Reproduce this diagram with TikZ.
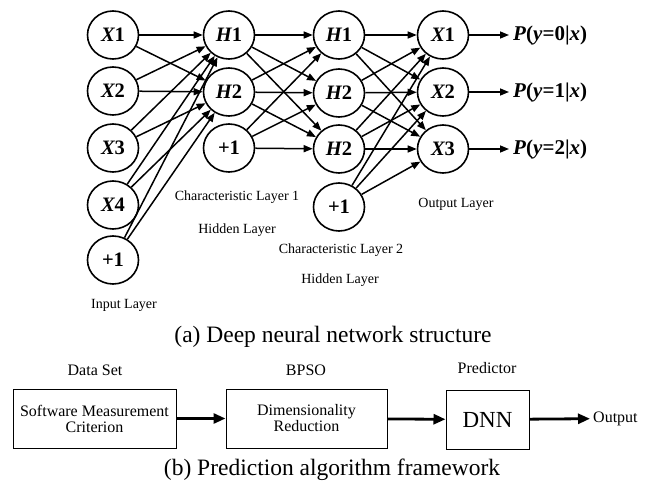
\documentclass[tikz,border=0pt]{standalone}
\usepackage{fontspec}
\setmainfont{Liberation Serif}
\usetikzlibrary{arrows.meta,shapes.geometric}
\begin{document}
\begin{tikzpicture}[x=1pt,y=-1pt,
  neuron/.style={ellipse,draw,line width=1.6pt,minimum width=51pt,minimum height=48pt,inner sep=0pt,
    font=\fontsize{20.5}{20.5}\selectfont\bfseries},
  conn/.style={line width=1.5pt,-{Triangle[length=9pt,width=7pt]}},
  lbl/.style={font=\fontsize{14}{14}\selectfont,inner sep=0pt},
  plbl/.style={font=\fontsize{21}{21}\selectfont\bfseries,anchor=west,inner sep=4pt},
  captext/.style={font=\fontsize{23.5}{23.5}\selectfont,inner sep=0pt},
  blbl/.style={font=\fontsize{16}{16}\selectfont,inner sep=0pt},
  stagebox/.style={draw,line width=1pt,minimum height=59pt,align=center,inner sep=0pt,
    font=\fontsize{16}{16}\selectfont},
  bigarrow/.style={line width=2.8pt,-{Triangle[length=12pt,width=10pt]}}]
\useasboundingbox (0,0) rectangle (656,481);
% input layer
\node[neuron] (in1) at (113,35) {\itshape X\upshape 1};
\node[neuron] (in2) at (113,91) {\itshape X\upshape 2};
\node[neuron] (in3) at (113,148) {\itshape X\upshape 3};
\node[neuron] (in4) at (113,205) {\itshape X\upshape 4};
\node[neuron] (in5) at (113,260) {+1};
% hidden layer 1
\node[neuron] (ha1) at (229,35) {\itshape H\upshape 1};
\node[neuron] (ha2) at (229,92) {\itshape H\upshape 2};
\node[neuron] (ha3) at (229,148) {+1};
% hidden layer 2
\node[neuron] (hb1) at (339,35) {\itshape H\upshape 1};
\node[neuron] (hb2) at (339,93) {\itshape H\upshape 2};
\node[neuron] (hb3) at (339,149) {\itshape H\upshape 2};
\node[neuron] (hb4) at (339,207) {+1};
% output layer
\node[neuron] (out1) at (443,35) {\itshape X\upshape 1};
\node[neuron] (out2) at (443,92) {\itshape X\upshape 2};
\node[neuron] (out3) at (443,149) {\itshape X\upshape 3};
% probabilities
\node[plbl] (p1) at (509,35) {\textit{P}(\textit{y}=0|\textit{x})};
\node[plbl] (p2) at (509,92) {\textit{P}(\textit{y}=1|\textit{x})};
\node[plbl] (p3) at (509,149) {\textit{P}(\textit{y}=2|\textit{x})};
% connections
\foreach \s in {1,...,5} \foreach \t in {1,2} \draw[conn] (in\s) -- (ha\t);
\foreach \s in {1,2,3} \foreach \t in {1,2,3} \draw[conn] (ha\s) -- (hb\t);
\foreach \s in {1,...,4} \foreach \t in {1,2,3} \draw[conn] (hb\s) -- (out\t);
\foreach \i in {1,2,3} \draw[conn] (out\i) -- (p\i.west);
% layer labels
\node[lbl] (l1) at (237,197) {Characteristic Layer 1};
\node[lbl] (l2) at (237,230) {Hidden Layer};
\node[lbl] (l3) at (341,250) {Characteristic Layer 2};
\node[lbl] (l4) at (340,280) {Hidden Layer};
\node[lbl] (l5) at (124,305) {Input Layer};
\node[lbl] (l6) at (456,204) {Output Layer};
\node[captext] (capa) at (333,337) {(a) Deep neural network structure};
% part b
\node[blbl] (t1) at (95,370) {Data Set};
\node[blbl] (t2) at (306,370) {BPSO};
\node[blbl] (t3) at (487,368) {Predictor};
\node[stagebox,minimum width=163pt] (b1) at (94.5,418.5) {Software Measurement\\Criterion};
\node[stagebox,minimum width=161pt] (b2) at (306.5,418.5) {Dimensionality\\Reduction};
\node[stagebox,minimum width=83pt,font=\fontsize{23}{23}\selectfont] (b3) at (487.5,419.5) {DNN};
\node[blbl,anchor=west,inner sep=3pt] (o) at (590,418.5) {Output};
\draw[bigarrow] (b1) -- (b2);
\draw[bigarrow] (b2) -- (b3);
\draw[bigarrow] (b3) -- (o);
\node[captext] (capb) at (332,470) {(b) Prediction algorithm framework};
\end{tikzpicture}
\end{document}
